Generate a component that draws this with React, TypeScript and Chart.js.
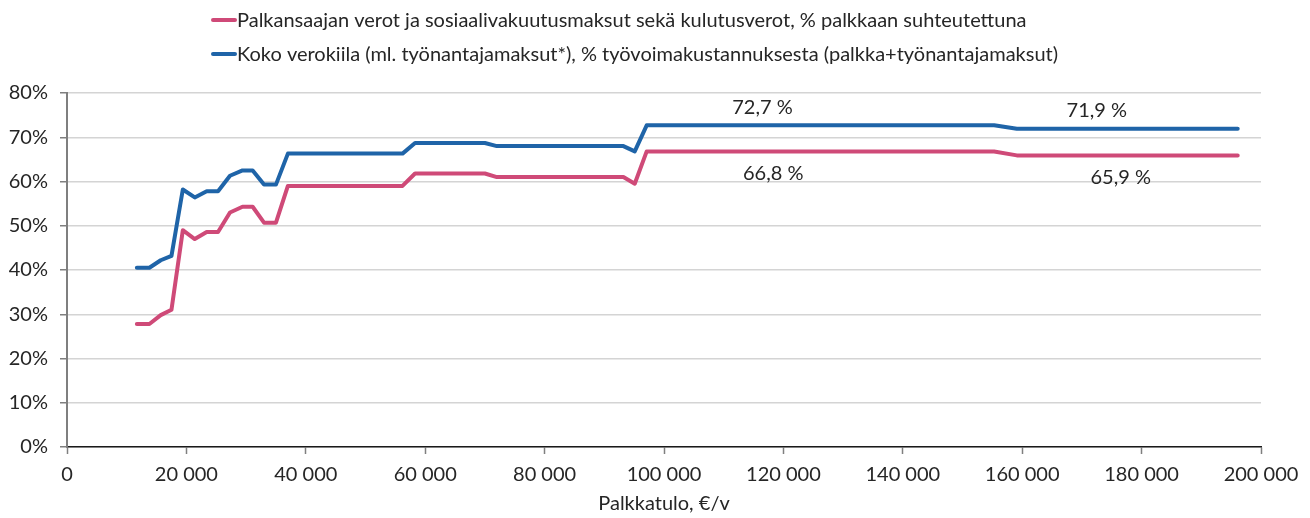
import React, { useEffect, useRef } from 'react';
import { Chart, registerables } from 'chart.js';

Chart.register(...registerables);

// Annual wage income (€/v)
const incomes = [11700, 13800, 15700, 17500, 19400, 21400, 23400, 25300, 27300, 29400, 31100, 33000, 35000, 37000, 56200, 58300, 70000, 72000, 93200, 95100, 97100, 155300, 159100, 196100];
// Employee taxes, social security and consumption taxes, % of wage
const employeeTax = [27.8, 27.8, 29.8, 31.0, 49.0, 47.0, 48.6, 48.6, 53.0, 54.3, 54.3, 50.7, 50.7, 59.0, 59.0, 61.8, 61.8, 61.0, 61.0, 59.5, 66.8, 66.8, 65.9, 65.9];
// Total tax wedge incl. employer contributions, % of labour cost
const totalWedge = [40.5, 40.5, 42.2, 43.2, 58.2, 56.4, 57.8, 57.8, 61.3, 62.5, 62.5, 59.3, 59.3, 66.3, 66.3, 68.7, 68.7, 68.0, 68.0, 66.8, 72.7, 72.7, 71.9, 71.9];

const seriesNames = [
  'Palkansaajan verot ja sosiaalivakuutusmaksut sekä kulutusverot, % palkkaan suhteutettuna',
  'Koko verokiila (ml. työnantajamaksut*), % työvoimakustannuksesta (palkka+työnantajamaksut)',
];
const seriesColors = ['#CF4A78', '#1F64A8'];

const xAxisTitle = 'Palkkatulo, €/v';
const xMin = 0;
const xMax = 200000;
const xStep = 20000;
const yMin = 0;
const yMax = 80;
const yStep = 10;

// Value annotations
const annotationIncome = [116500, 118300, 172500, 176500];
const annotationSeries = [1, 0, 1, 0];
const annotationValue = [72.7, 66.8, 71.9, 65.9];
const annotationText = ['72,7 %', '66,8 %', '71,9 %', '65,9 %'];

const FONT = 'Lato';
const TEXT = '#262626';

const fmtThousands = (v: number) => String(v).replace(/\B(?=(\d{3})+(?!\d))/g, ' ');

export default function App() {
  const ref = useRef<HTMLCanvasElement | null>(null);

  useEffect(() => {
    if (!ref.current) return;

    const overlay = {
      id: 'overlay',
      afterDraw(chart: any) {
        const ctx = chart.ctx;
        ctx.save();
        // legend
        const lx = 212;
        const rows = [20, 54];
        ctx.font = `20px ${FONT}`;
        ctx.textBaseline = 'middle';
        ctx.textAlign = 'left';
        seriesNames.forEach((name, i) => {
          ctx.strokeStyle = seriesColors[i];
          ctx.lineWidth = 4;
          ctx.lineCap = 'round';
          ctx.beginPath();
          ctx.moveTo(lx + 1, rows[i]);
          ctx.lineTo(lx + 23, rows[i]);
          ctx.stroke();
          ctx.fillStyle = TEXT;
          ctx.fillText(name, lx + 25, rows[i] + 1);
        });
        // annotations
        const xs = chart.scales.x;
        const ys = chart.scales.y;
        ctx.textAlign = 'center';
        annotationText.forEach((t, i) => {
          const px = xs.getPixelForValue(annotationIncome[i]);
          const py = ys.getPixelForValue(annotationValue[i]) + (annotationSeries[i] === 1 ? -18 : 22);
          ctx.fillStyle = TEXT;
          ctx.fillText(t, px, py);
        });
        ctx.restore();
      },
    };

    const chart = new Chart(ref.current, {
      type: 'line',
      data: {
        datasets: [
          {
            label: seriesNames[0],
            data: incomes.map((x, i) => ({ x, y: employeeTax[i] })),
            borderColor: seriesColors[0],
            backgroundColor: seriesColors[0],
            borderWidth: 4,
            pointRadius: 0,
            tension: 0,
            borderCapStyle: 'round',
            borderJoinStyle: 'round',
          },
          {
            label: seriesNames[1],
            data: incomes.map((x, i) => ({ x, y: totalWedge[i] })),
            borderColor: seriesColors[1],
            backgroundColor: seriesColors[1],
            borderWidth: 4,
            pointRadius: 0,
            tension: 0,
            borderCapStyle: 'round',
            borderJoinStyle: 'round',
          },
        ],
      },
      options: {
        responsive: false,
        animation: false,
        layout: { padding: { top: 93, left: 0, right: 49, bottom: 0 } },
        plugins: {
          legend: { display: false },
          tooltip: { enabled: false },
        },
        scales: {
          x: {
            type: 'linear',
            min: xMin,
            max: xMax,
            afterFit: (s: any) => { s.height = 71; },
            ticks: {
              stepSize: xStep,
              color: TEXT,
              font: { family: FONT, size: 20 },
              padding: 9,
              maxRotation: 0,
              callback: (v: any) => fmtThousands(Number(v)),
            },
            grid: { drawOnChartArea: false, drawTicks: true, tickLength: 7, tickColor: '#7f7f7f', tickWidth: 1.5 },
            border: { display: true, color: '#1a1a1a', width: 1.5 },
            title: {
              display: true,
              text: xAxisTitle,
              color: TEXT,
              font: { family: FONT, size: 20 },
              padding: { top: 2, bottom: 2 },
            },
          },
          y: {
            min: yMin,
            max: yMax,
            afterFit: (s: any) => { s.width = 67; },
            ticks: {
              stepSize: yStep,
              color: TEXT,
              font: { family: FONT, size: 20 },
              padding: 12,
              callback: (v: any) => `${v}%`,
            },
            grid: { color: '#d4d4d4', lineWidth: 1.5, drawTicks: true, tickLength: 7, tickColor: '#7f7f7f', tickWidth: 1.5 },
            border: { display: true, color: '#7f7f7f', width: 2 },
          },
        },
      },
      plugins: [overlay],
    } as any);

    return () => chart.destroy();
  }, []);

  return (
    <div style={{ position: 'fixed', left: 0, top: 0, width: 1310, height: 518, background: '#fff' }}>
      <canvas ref={ref} width={1310} height={518} style={{ display: 'block' }} />
    </div>
  );
}
